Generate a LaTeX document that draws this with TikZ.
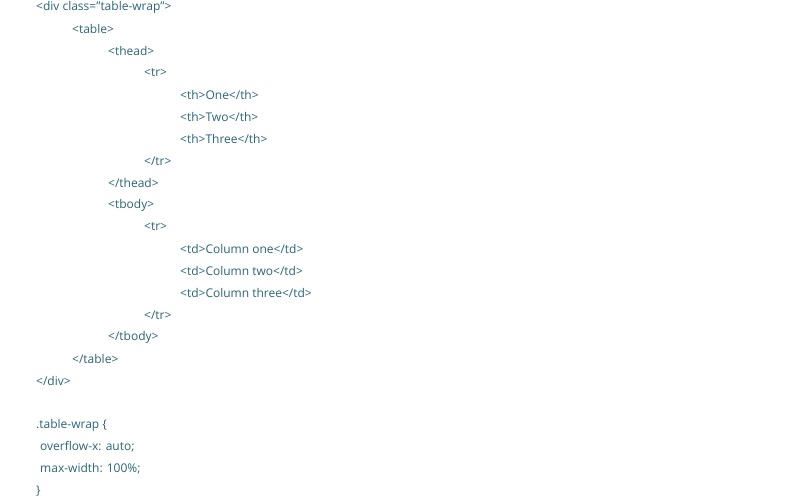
\documentclass[tikz,border=0pt]{standalone}
\usepackage{fontspec}
\setmainfont{Open Sans}
\definecolor{codeteal}{HTML}{2A6478}
\tikzset{%
  codeline/.style = {anchor=west, inner sep=0pt, text=codeteal,%
                     font=\fontsize{12}{14}\selectfont}%
}
\begin{document}
\begin{tikzpicture}[x=1pt,y=-1pt]
	\useasboundingbox (0,0) rectangle (800,500);
	% markup lines: indent level / line number / text
	\foreach \lvl/\row/\txt [count=\i] in {%
		0/0/{<div class="table-wrap">},
		1/1/{<table>},
		2/2/{<thead>},
		3/3/{<tr>},
		4/4/{<th>One</th>},
		4/5/{<th>Two</th>},
		4/6/{<th>Three</th>},
		3/7/{</tr>},
		2/8/{</thead>},
		2/9/{<tbody>},
		3/10/{<tr>},
		4/11/{<td>Column one</td>},
		4/12/{<td>Column two</td>},
		4/13/{<td>Column three</td>},
		3/14/{</tr>},
		2/15/{</tbody>},
		1/16/{</table>},
		0/17/{</div>}}
		\node[codeline] (line\i) at (36+36*\lvl,7+22*\row) {\txt};
	% style lines
	\node[codeline] (css1) at (36,425) {.table-wrap \{};
	\node[codeline] (css2) at (40,447) {overflow-x: auto;};
	\node[codeline] (css3) at (40,469) {max-width: 100\%;};
	\node[codeline] (css4) at (36,491) {\}};
\end{tikzpicture}
\end{document}
